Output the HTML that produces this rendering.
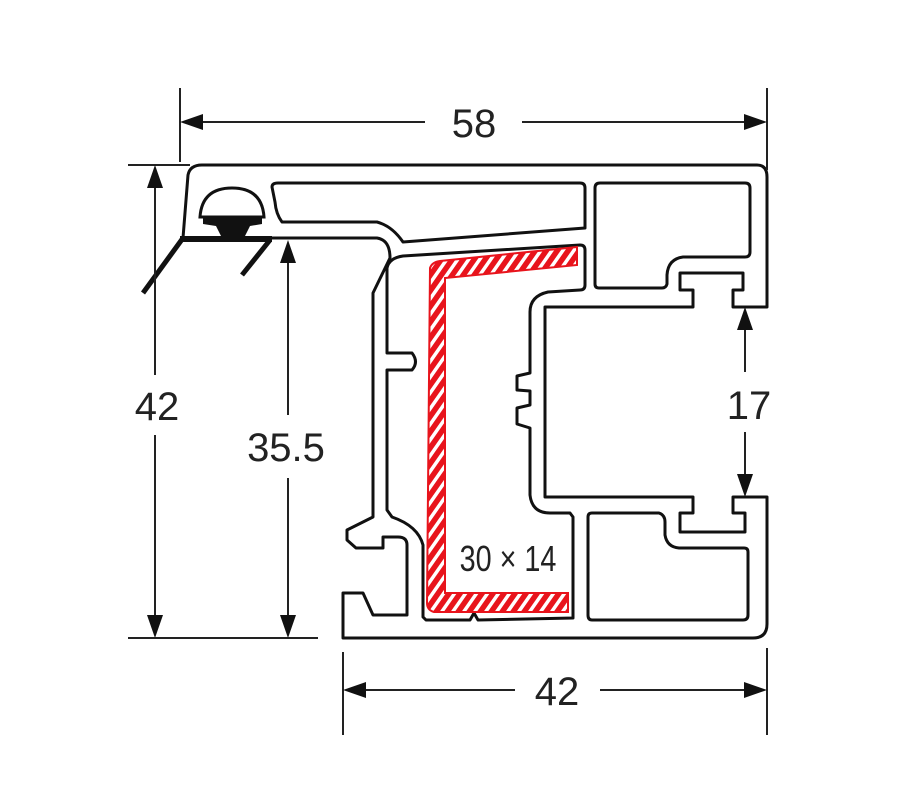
<!DOCTYPE html>
<html><head><meta charset="utf-8"><style>
html,body{margin:0;padding:0;background:#fff;}
svg{display:block;}
text{font-family:"Liberation Sans",sans-serif;fill:#222;}
</style></head><body>
<svg width="900" height="800" viewBox="0 0 900 800" xmlns="http://www.w3.org/2000/svg">
<defs>
<pattern id="h" patternUnits="userSpaceOnUse" width="9" height="9" patternTransform="rotate(-55)">
<rect width="9" height="9" fill="#e8141c"/>
<rect x="0" y="0" width="9" height="3.5" fill="#fff"/>
</pattern>
</defs>
<g fill="none" stroke="#111" stroke-width="3" stroke-linejoin="round">
<path d="M202,165 L757,165 Q767,165 767,177 L767,307 L733,307 L733,290 L743,290 L743,273 L680,273 L680,290 L693,290 L693,307 L545,307 L545,497 L693,497 L693,513 L680,513 L680,532 L745,532 L745,513 L733,513 L733,497 L767,497 L767,624 Q767,638 753,638 L343,638 L343,593 L363,593 L373,615 L407,615 L407,545 Q407,537 398,537 L383,537 L383,548 L356,548 L347,540 L347,530 L373,517 L373,293 L390,258 Q390,240 377,238 L183,238 L188,175 Q190,165 202,165 Z"/>
<path d="M272,187 Q272,183 278,183 L580,183 Q585,183 585,188 L585,228 L403,242 Q392,226 377,222 L282,222 Q276,214 275,202 Z"/>
<path d="M403,256 L580,245 Q585,245 585,250 L585,285 Q585,290 580,290 L548,292 Q530,296 530,312 L530,373 L517,376 L517,390 L530,391 L530,405 L517,408 L517,424 L530,428 L530,495 Q532,513 550,513 L570,513 L573,517 L573,618 L478,620 L474,613 L470,620 L426,620 L423,617 L423,545 Q418,526 392,517 L387,510 L387,370 L412,370 Q419,362 412,353 L387,353 L387,268 Q389,258 403,256 Z"/>
<path d="M595,188 Q595,183 600,183 L745,183 Q750,183 750,188 L750,252 Q750,257 745,257 L683,257 Q668,259 667,275 L667,284 Q666,288 662,288 L599,288 Q595,288 595,284 Z"/>
<path d="M588,517 Q588,513 592,513 L659,513 Q665,515 665,522 L665,535 Q667,547 679,548 L744,548 Q748,548 748,552 L748,615 Q748,620 743,620 L592,620 Q588,620 588,615 Z"/>
</g>
<path d="M200,217 Q202,188 232,188 Q262,188 264,217 Z" fill="none" stroke="#111" stroke-width="3"/>
<path d="M203,216 L262,216 L262,224 L250,226 L244,238 L222,238 L216,226 L203,224 Z" fill="#111"/>
<path d="M180,236 L272,236 L272,242 L180,242 Z" fill="#111"/>
<path d="M183,238 L143,293" stroke="#111" stroke-width="5"/>
<path d="M270,240 L242,275" stroke="#111" stroke-width="5"/>
<path d="M430,268 Q432,262 440,261 L577,247 L577,265 L445,278 L445,593 L568,593 L568,612 L434,612 Q427,610 427,603 Z" fill="url(#h)" stroke="#e8141c" stroke-width="2"/>
<g stroke="#222" stroke-width="2" fill="none">
<line x1="180" y1="88" x2="180" y2="162"/>
<line x1="767" y1="88" x2="767" y2="170"/>
<line x1="190" y1="122" x2="425" y2="122"/>
<line x1="522" y1="122" x2="757" y2="122"/>
<line x1="128" y1="165" x2="190" y2="165"/>
<line x1="128" y1="638" x2="318" y2="638"/>
<line x1="155" y1="175" x2="155" y2="375"/>
<line x1="155" y1="435" x2="155" y2="628"/>
<line x1="288" y1="250" x2="288" y2="415"/>
<line x1="288" y1="478" x2="288" y2="628"/>
<line x1="745" y1="317" x2="745" y2="372"/>
<line x1="745" y1="432" x2="745" y2="487"/>
<line x1="343" y1="652" x2="343" y2="735"/>
<line x1="767" y1="648" x2="767" y2="735"/>
<line x1="353" y1="690" x2="515" y2="690"/>
<line x1="600" y1="690" x2="757" y2="690"/>
</g>
<g fill="#111">
<path d="M180,122 L203,114 L203,130 Z"/>
<path d="M767,122 L744,114 L744,130 Z"/>
<path d="M155,165 L147,188 L163,188 Z"/>
<path d="M155,638 L147,615 L163,615 Z"/>
<path d="M288,240 L280,263 L296,263 Z"/>
<path d="M288,638 L280,615 L296,615 Z"/>
<path d="M745,307 L737,330 L753,330 Z"/>
<path d="M745,497 L737,474 L753,474 Z"/>
<path d="M343,690 L366,682 L366,698 Z"/>
<path d="M767,690 L744,682 L744,698 Z"/>
</g>
<text x="474" y="137" font-size="40" text-anchor="middle">58</text>
<text x="157" y="420" font-size="40" text-anchor="middle">42</text>
<text x="286" y="461" font-size="40" text-anchor="middle">35.5</text>
<text x="749" y="419" font-size="40" text-anchor="middle">17</text>
<text x="557" y="705" font-size="40" text-anchor="middle">42</text>
<text x="0" y="0" font-size="36" text-anchor="middle" transform="translate(508,571) scale(0.8,1)">30 × 14</text>
</svg>
</body></html>
